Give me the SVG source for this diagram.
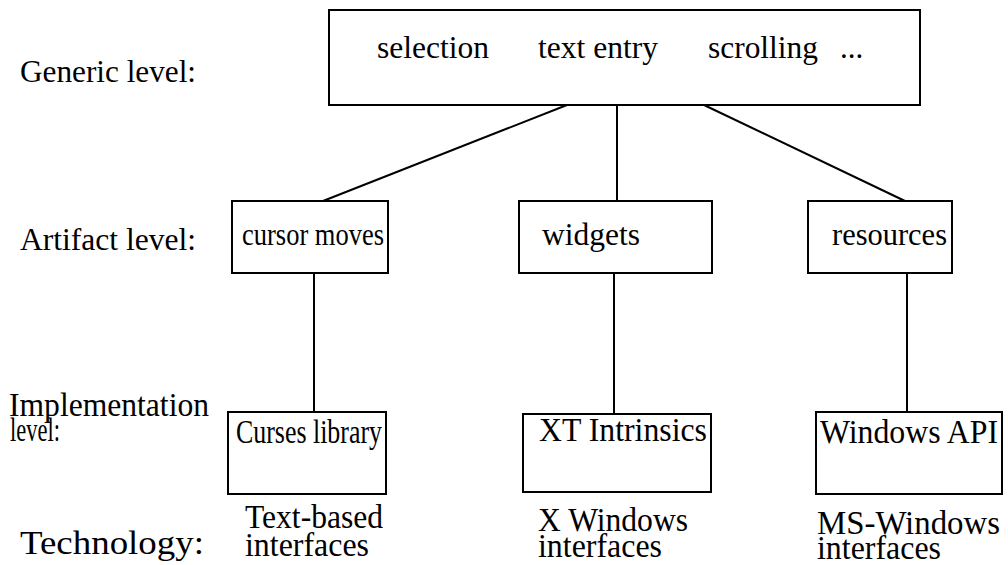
<svg xmlns="http://www.w3.org/2000/svg" width="1008" height="565" viewBox="0 0 1008 565" font-family="'Liberation Serif', 'Times New Roman', serif">
<style>
text { font-family: "Liberation Serif", "Times New Roman", serif; font-size: 31px; fill: #000; }
.c { font-size: 33px; }
rect { fill: #fff; stroke: #000; stroke-width: 2; }
line { stroke: #000; stroke-width: 2; }
</style>
<rect x="0" y="0" width="1008" height="565" style="stroke:none"/>
<g id="labels">
<text x="20" y="82" textLength="176" lengthAdjust="spacingAndGlyphs">Generic level:</text>
<text x="20" y="250" textLength="176" lengthAdjust="spacingAndGlyphs">Artifact level:</text>
<text class="c" x="9" y="416" textLength="200" lengthAdjust="spacingAndGlyphs">Implementation</text>
<text class="c" x="10" y="441" textLength="50" lengthAdjust="spacingAndGlyphs">level:</text>
<text class="c" x="20" y="554" textLength="184" lengthAdjust="spacingAndGlyphs">Technology:</text>
</g>
<g id="connectors">
<line x1="567" y1="105" x2="323" y2="201"/>
<line x1="617" y1="105" x2="617" y2="201"/>
<line x1="704" y1="105" x2="905" y2="201"/>
<line x1="314" y1="273" x2="314" y2="412"/>
<line x1="614" y1="273" x2="614" y2="414"/>
<line x1="907" y1="273" x2="907" y2="412"/>
</g>
<g id="generic">
<rect x="329" y="10" width="591" height="95"/>
<text x="377" y="58" textLength="112" lengthAdjust="spacingAndGlyphs">selection</text>
<text x="538" y="58" textLength="120" lengthAdjust="spacingAndGlyphs">text entry</text>
<text x="708" y="58" textLength="110" lengthAdjust="spacingAndGlyphs">scrolling</text>
<text x="840" y="58">...</text>
</g>
<g id="cursor-moves">
<rect x="232" y="201" width="156" height="72"/>
<text x="242" y="245" textLength="142" lengthAdjust="spacingAndGlyphs">cursor moves</text>
</g>
<g id="widgets">
<rect x="519" y="201" width="193" height="72"/>
<text x="542" y="245" textLength="98" lengthAdjust="spacingAndGlyphs">widgets</text>
</g>
<g id="resources">
<rect x="808" y="201" width="144" height="72"/>
<text x="832" y="245" textLength="115" lengthAdjust="spacingAndGlyphs">resources</text>
</g>
<g id="curses-library">
<rect x="228" y="412" width="158" height="82"/>
<text class="c" x="236" y="443" textLength="146" lengthAdjust="spacingAndGlyphs">Curses library</text>
</g>
<g id="xt-intrinsics">
<rect x="523" y="414" width="188" height="78"/>
<text class="c" x="539" y="441" textLength="168" lengthAdjust="spacingAndGlyphs">XT Intrinsics</text>
</g>
<g id="windows-api">
<rect x="816" y="412" width="186" height="82"/>
<text class="c" x="820" y="443" textLength="178" lengthAdjust="spacingAndGlyphs">Windows API</text>
</g>
<g id="technologies">
<text class="c" x="245" y="528" textLength="138" lengthAdjust="spacingAndGlyphs">Text-based</text>
<text class="c" x="245" y="556" textLength="124" lengthAdjust="spacingAndGlyphs">interfaces</text>
<text class="c" x="538" y="531" textLength="150" lengthAdjust="spacingAndGlyphs">X Windows</text>
<text class="c" x="538" y="557" textLength="124" lengthAdjust="spacingAndGlyphs">interfaces</text>
<text class="c" x="817" y="534" textLength="183" lengthAdjust="spacingAndGlyphs">MS-Windows</text>
<text class="c" x="817" y="559" textLength="124" lengthAdjust="spacingAndGlyphs">interfaces</text>
</g>
</svg>
